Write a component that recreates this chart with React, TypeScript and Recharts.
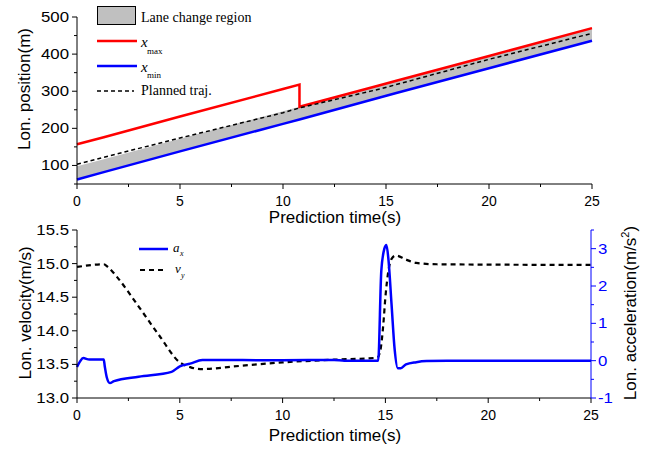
import React from 'react';
import { ComposedChart, Line, Area, XAxis, YAxis, Legend } from 'recharts';

// top panel: longitudinal position bounds (m) vs prediction time (s)
const T_POS = [0, 1.3, 5, 10, 10.8, 10.8, 14.7, 15.5, 20, 25];
const X_MAX = [157, 176, 232, 306, 318, 258, 316, 328, 395, 470];
const X_MIN = [62, 82, 138, 212, 224, 224, 283, 295, 362, 436];
const LANE_TOP = [98, 117, 172, 246, 258, 258, 316, 328, 395, 470];
const PLANNED = [103, 122, 174, 242, 255, 255, 306, 318, 386, 456];

// bottom panel: acceleration a_x (m/s^2) and velocity v_y (m/s)
const A_T = [0, 0.15, 0.3, 0.6, 1.3, 1.35, 1.45, 1.6, 1.8, 3, 4.6, 5, 5.5, 6.1, 10, 12.5, 13, 14.65, 14.8, 14.95, 15.05, 15.15, 15.3, 15.45, 15.6, 15.75, 16, 16.5, 17, 18, 25];
const A_X = [-0.17, -0.02, 0.07, 0.03, 0.03, -0.15, -0.45, -0.6, -0.55, -0.43, -0.3, -0.15, -0.08, 0.02, 0.01, 0.02, 0.0, 0.0, 2.4, 3.0, 3.1, 2.7, 1.5, 0.3, -0.2, -0.2, -0.1, -0.04, -0.01, 0, 0];
const V_T = [0, 1.3, 1.5, 2, 3, 4, 5, 5.5, 6, 8, 10, 12.5, 14.6, 14.75, 14.9, 15.0, 15.15, 15.3, 15.5, 16, 16.5, 17.5, 25];
const V_Y = [14.95, 14.99, 14.95, 14.78, 14.36, 13.93, 13.53, 13.46, 13.43, 13.48, 13.53, 13.57, 13.6, 13.7, 14.1, 14.5, 14.9, 15.07, 15.12, 15.06, 15.01, 14.99, 14.98];

// axis ticks
const TIME_MAJOR = [0, 5, 10, 15, 20, 25];
const TIME_MINOR = [2.5, 7.5, 12.5, 17.5, 22.5];
const POS_MAJOR = [100, 200, 300, 400, 500];
const POS_MINOR = [50, 150, 250, 350, 450];
const VEL_MAJOR = [13, 13.5, 14, 14.5, 15, 15.5];
const VEL_MINOR = [13.25, 13.75, 14.25, 14.75, 15.25];
const ACC_MAJOR = [-1, 0, 1, 2, 3];
const ACC_MINOR = [-0.5, 0.5, 1.5, 2.5, 3.5];

const SANS = '"Liberation Sans", Arial, sans-serif';
const SERIF = '"Liberation Serif", "Times New Roman", serif';
const BLUE = '#0000ff';
const RED = '#ff0000';

const posData = T_POS.map((t, i) => ({
  t,
  xmax: X_MAX[i],
  xmin: X_MIN[i],
  lane: [X_MIN[i], LANE_TOP[i]],
  planned: PLANNED[i],
}));

const velData = [
  ...A_T.map((t, i) => ({ t, a: A_X[i] })),
  ...V_T.map((t, i) => ({ t, v: V_Y[i] })),
].sort((p, q) => p.t - q.t);

const allTicks = (major: number[], minor: number[]) => [...major, ...minor].sort((a, b) => a - b);

// bottom x ticks (outward) with labels on majors
const TimeTick = ({ x, y, payload }: any) => {
  const major = TIME_MAJOR.includes(payload.value);
  return (
    <g>
      <line x1={x} x2={x} y1={y} y2={y + (major ? 5 : 3)} stroke="#000" />
      {major && (
        <text x={x} y={y + 21.5} textAnchor="middle" fontSize={14} fontFamily={SANS} fill="#000">
          {payload.value}
        </text>
      )}
    </g>
  );
};

// top frame ticks, pointing into the plot
const FrameTick = ({ x, y, payload }: any) => {
  const major = TIME_MAJOR.includes(payload.value);
  return <line x1={x} x2={x} y1={y} y2={y + (major ? 5 : 3)} stroke="#000" />;
};

// y labels look a little wide in the original, hence the x stretch
const leftTick = (majors: number[], fmt: (v: number) => string) => ({ x, y, payload }: any) => {
  const major = majors.includes(payload.value);
  return (
    <g>
      <line x1={x - (major ? 5 : 3)} x2={x} y1={y} y2={y} stroke="#000" />
      {major && (
        <text
          transform={`translate(${x - 8},${y + 5}) scale(1.2,1)`}
          textAnchor="end"
          fontSize={14}
          fontFamily={SANS}
          fill="#000"
        >
          {fmt(payload.value)}
        </text>
      )}
    </g>
  );
};

const AccTick = ({ x, y, payload }: any) => {
  const major = ACC_MAJOR.includes(payload.value);
  return (
    <g>
      <line x1={x} x2={x + (major ? 5 : 3)} y1={y} y2={y} stroke={BLUE} />
      {major && (
        <text
          transform={`translate(${x + 7},${y + 5}) scale(1.2,1)`}
          textAnchor="start"
          fontSize={14}
          fontFamily={SANS}
          fill={BLUE}
        >
          {payload.value}
        </text>
      )}
    </g>
  );
};

const TopLegend = () => (
  <svg width={300} height={105} style={{ display: 'block' }}>
    <rect x={97.5} y={6.5} width={38} height={18} fill="#c0c0c0" stroke="#000" />
    <text x={141} y={22} fontSize={14} fontFamily={SERIF}>Lane change region</text>
    <line x1={97} x2={137} y1={41} y2={41} stroke={RED} strokeWidth={2.5} />
    <text x={141} y={47} fontFamily={SERIF} fontStyle="italic" fontSize={15}>x</text>
    <text x={147} y={54} fontFamily={SERIF} fontSize={9}>max</text>
    <line x1={97} x2={137} y1={66} y2={66} stroke={BLUE} strokeWidth={2.5} />
    <text x={141} y={72} fontFamily={SERIF} fontStyle="italic" fontSize={15}>x</text>
    <text x={147} y={78} fontFamily={SERIF} fontSize={9}>min</text>
    <line x1={97} x2={134} y1={91} y2={91} stroke="#000" strokeWidth={1.5} strokeDasharray="4 3" />
    <text x={141} y={95} fontSize={14} fontFamily={SERIF}>Planned traj.</text>
  </svg>
);

const BottomLegend = () => (
  <svg width={220} height={70} style={{ display: 'block' }}>
    <line x1={139} x2={168} y1={27} y2={27} stroke={BLUE} strokeWidth={2.5} />
    <text x={173} y={30} fontFamily={SERIF} fontStyle="italic" fontSize={13}>a</text>
    <text x={180} y={34} fontFamily={SERIF} fontStyle="italic" fontSize={8}>x</text>
    <line x1={140} x2={166} y1={48} y2={48} stroke="#000" strokeWidth={2.2} strokeDasharray="5 4" />
    <text x={175} y={51} fontFamily={SERIF} fontStyle="italic" fontSize={13}>v</text>
    <text x={181} y={56} fontFamily={SERIF} fontStyle="italic" fontSize={8}>y</text>
  </svg>
);

export default function App() {
  return (
    <div style={{ position: 'absolute', left: 0, top: 0, width: 652, height: 451, background: '#fff' }}>
      <div style={{ position: 'absolute', left: 0, top: 0 }}>
        <ComposedChart width={652} height={226} data={posData} margin={{ top: 17, right: 60, bottom: 0, left: 0 }}>
          <XAxis
            dataKey="t"
            type="number"
            domain={[0, 25]}
            ticks={allTicks(TIME_MAJOR, TIME_MINOR)}
            interval={0}
            height={42}
            tickSize={0}
            tickMargin={0}
            tickLine={false}
            stroke="#000"
            tick={(p: any) => <TimeTick {...p} />}
          />
          <YAxis
            type="number"
            domain={[50, 500]}
            ticks={allTicks(POS_MAJOR, POS_MINOR)}
            interval={0}
            width={77}
            tickSize={0}
            tickMargin={0}
            tickLine={false}
            stroke="#000"
            tick={(p: any) => leftTick(POS_MAJOR, (v) => String(v))(p)}
          />
          <Legend
            layout="vertical"
            align="center"
            verticalAlign="middle"
            wrapperStyle={{ left: 0, top: 0, width: 300, height: 105 }}
            content={() => <TopLegend />}
          />
          <Area dataKey="lane" type="linear" fill="#c0c0c0" fillOpacity={1} stroke="none" isAnimationActive={false} />
          <Line dataKey="xmin" type="linear" stroke={BLUE} strokeWidth={2.5} dot={false} isAnimationActive={false} />
          <Line dataKey="xmax" type="linear" stroke={RED} strokeWidth={2.5} dot={false} isAnimationActive={false} />
          <Line dataKey="planned" type="linear" stroke="#000" strokeWidth={1.5} strokeDasharray="4 3" dot={false} isAnimationActive={false} />
        </ComposedChart>
      </div>

      <div style={{ position: 'absolute', left: 0, top: 222 }}>
        <ComposedChart width={652} height={229} data={velData} margin={{ top: 8, right: 0, bottom: 0, left: 0 }}>
          <XAxis
            dataKey="t"
            type="number"
            domain={[0, 25]}
            ticks={allTicks(TIME_MAJOR, TIME_MINOR)}
            interval={0}
            height={53}
            tickSize={0}
            tickMargin={0}
            tickLine={false}
            stroke="#000"
            tick={(p: any) => <TimeTick {...p} />}
          />
          <XAxis
            xAxisId="top"
            orientation="top"
            dataKey="t"
            type="number"
            domain={[0, 25]}
            ticks={allTicks(TIME_MAJOR, TIME_MINOR)}
            interval={0}
            height={0}
            tickSize={0}
            tickMargin={0}
            tickLine={false}
            stroke="#000"
            tick={(p: any) => <FrameTick {...p} />}
          />
          <YAxis
            yAxisId="v"
            type="number"
            domain={[13, 15.5]}
            ticks={allTicks(VEL_MAJOR, VEL_MINOR)}
            interval={0}
            width={77}
            tickSize={0}
            tickMargin={0}
            tickLine={false}
            stroke="#000"
            tick={(p: any) => leftTick(VEL_MAJOR, (v) => v.toFixed(1))(p)}
          />
          <YAxis
            yAxisId="a"
            orientation="right"
            type="number"
            domain={[-1, 3.5]}
            ticks={allTicks(ACC_MAJOR, ACC_MINOR)}
            interval={0}
            width={61}
            tickSize={0}
            tickMargin={0}
            tickLine={false}
            stroke={BLUE}
            tick={(p: any) => <AccTick {...p} />}
          />
          <Legend
            layout="vertical"
            align="center"
            verticalAlign="middle"
            wrapperStyle={{ left: 0, top: 0, width: 220, height: 70 }}
            content={() => <BottomLegend />}
          />
          <Line yAxisId="v" dataKey="v" type="monotone" connectNulls stroke="#000" strokeWidth={2.2} strokeDasharray="5 4" dot={false} isAnimationActive={false} />
          <Line yAxisId="a" dataKey="a" type="monotone" connectNulls stroke={BLUE} strokeWidth={2.5} dot={false} isAnimationActive={false} />
        </ComposedChart>
      </div>

      {/* axis titles */}
      <svg width={652} height={451} style={{ position: 'absolute', left: 0, top: 0, pointerEvents: 'none' }}>
        <g fontFamily={SANS} fontSize={17} fill="#000">
          <text x={335} y={223} textAnchor="middle">Prediction time(s)</text>
          <text x={335} y={441} textAnchor="middle">Prediction time(s)</text>
          <text transform="translate(30,89) rotate(-90)" textAnchor="middle">Lon. position(m)</text>
          <text transform="translate(31,313) rotate(-90)" textAnchor="middle">Lon. velocity(m/s)</text>
          <text transform="translate(636,313) rotate(-90)" textAnchor="middle">
            Lon. acceleration(m/s<tspan dy={-7} fontSize={11}>2</tspan><tspan dy={7}>)</tspan>
          </text>
        </g>
      </svg>
    </div>
  );
}
